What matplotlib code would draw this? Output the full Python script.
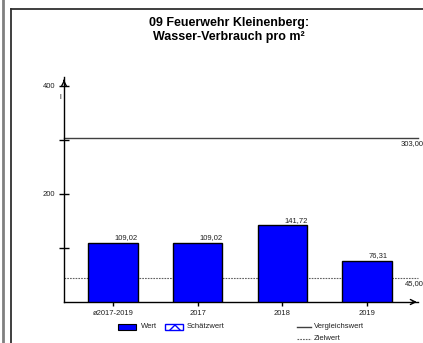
import matplotlib
matplotlib.use('agg')
import matplotlib.pyplot as plt
from matplotlib.patches import Rectangle
from matplotlib.lines import Line2D

plt.rcParams['font.family'] = ['Liberation Sans', 'DejaVu Sans']

title = "09 Feuerwehr Kleinenberg:\nWasser-Verbrauch pro m²"
categories = ["ø2017-2019", "2017", "2018", "2019"]
values = [109.02, 109.02, 141.72, 76.31]
vergleichswert = 303.00
zielwert = 45.00
unit = "l"

W, H = 423, 343
fig = plt.figure(figsize=(W / 100, H / 100), dpi=100)

def px(x, y):
    # pixel coords (origin top-left) -> figure fraction
    return x / W, 1 - y / H

# outer frame lines
fig.add_artist(Line2D([3 / W, 3 / W], [0, 1], color='#808080', lw=2))
fig.add_artist(Line2D([11 / W, 11 / W], [0, 1 - 9 / H], color='#303030', lw=1.3))
fig.add_artist(Line2D([11 / W, 1], [1 - 9 / H, 1 - 9 / H], color='#303030', lw=1.3))

fig.text(*px(229, 30), title, ha='center', va='center', fontsize=9,
         fontweight='bold', linespacing=1.15)

# plot area
x0, x1, y0, ytop = 64, 418, 302, 77
ax = fig.add_axes([x0 / W, 1 - y0 / H, (x1 - x0) / W, (y0 - ytop) / H])
step = 84.7
ax.set_xlim(-(113 - x0) / step, 3 + (x1 - 367) / step)
ymax = (y0 - ytop) / 108 * 200
ax.set_ylim(0, ymax)
ax.patch.set_alpha(0)
for s in ['top', 'right']:
    ax.spines[s].set_visible(False)
for s in ['left', 'bottom']:
    ax.spines[s].set_linewidth(1)

xs = range(len(categories))
bars = ax.bar(xs, values, width=0.58, color='#0000FF', edgecolor='black', lw=1, zorder=3)
for x, v in zip(xs, values):
    ax.text(x + 0.02, v + 3, f"{v:.2f}".replace('.', ','), ha='left', va='bottom',
            fontsize=5.5, color='#202020')

xl = ax.get_xlim()
ax.plot(xl, [vergleichswert] * 2, color='#404040', lw=1, zorder=2, clip_on=False)
ax.plot(xl, [zielwert] * 2, color='#606060', lw=0.8, ls=(0, (1.5, 1)), zorder=2, clip_on=False)
ax.text(3.40, vergleichswert - 4, f"{vergleichswert:.2f}".replace('.', ','),
        ha='left', va='top', fontsize=5.5, color='#202020', clip_on=False)
ax.text(3.45, zielwert - 4, f"{zielwert:.2f}".replace('.', ','),
        ha='left', va='top', fontsize=5.5, color='#202020', clip_on=False)

ax.set_xticks(list(xs))
ax.set_xticklabels(categories, fontsize=5.5, color='#202020')
ax.tick_params(axis='x', direction='out', length=3, width=1, pad=3)
ax.set_yticks([100, 200, 300, 400])
ax.set_yticklabels(['', '200', '', '400'], fontsize=5.5, color='#202020')
ax.tick_params(axis='y', direction='inout', length=7, width=1, pad=3)
ax.text(-0.62, 378, unit, ha='center', va='center', fontsize=5.5,
        color='#202020', clip_on=False)

# axis arrows
ax.annotate('', xy=(xl[0], ymax), xytext=(xl[0], ymax - 12),
            arrowprops=dict(arrowstyle='->', lw=1, color='black', mutation_scale=9),
            annotation_clip=False)
ax.annotate('', xy=(xl[1] + 0.02, 0), xytext=(xl[1] - 0.1, 0),
            arrowprops=dict(arrowstyle='->', lw=1, color='black', mutation_scale=9),
            annotation_clip=False)

# legend
fig.add_artist(Rectangle(px(118, 330), 18 / W, 6 / H, facecolor='#0000FF',
                         edgecolor='black', lw=0.8))
fig.text(*px(141, 327), "Wert", ha='left', va='center', fontsize=5.5, color='#202020')
fig.add_artist(Rectangle(px(165, 330), 18 / W, 6 / H, facecolor='white',
                         edgecolor='#0000FF', lw=1, hatch='xx'))
fig.text(*px(187, 327), "Schätzwert", ha='left', va='center', fontsize=5.5, color='#202020')
fig.add_artist(Line2D([297 / W, 311 / W], [1 - 327 / H] * 2, color='#404040', lw=1))
fig.text(*px(314, 327), "Vergleichswert", ha='left', va='center', fontsize=5.5, color='#202020')
fig.add_artist(Line2D([297 / W, 311 / W], [1 - 339 / H] * 2, color='#606060', lw=0.8,
                      ls=(0, (1.5, 1))))
fig.text(*px(314, 339), "Zielwert", ha='left', va='center', fontsize=5.5, color='#202020')

fig.savefig('out.png', dpi=100)
